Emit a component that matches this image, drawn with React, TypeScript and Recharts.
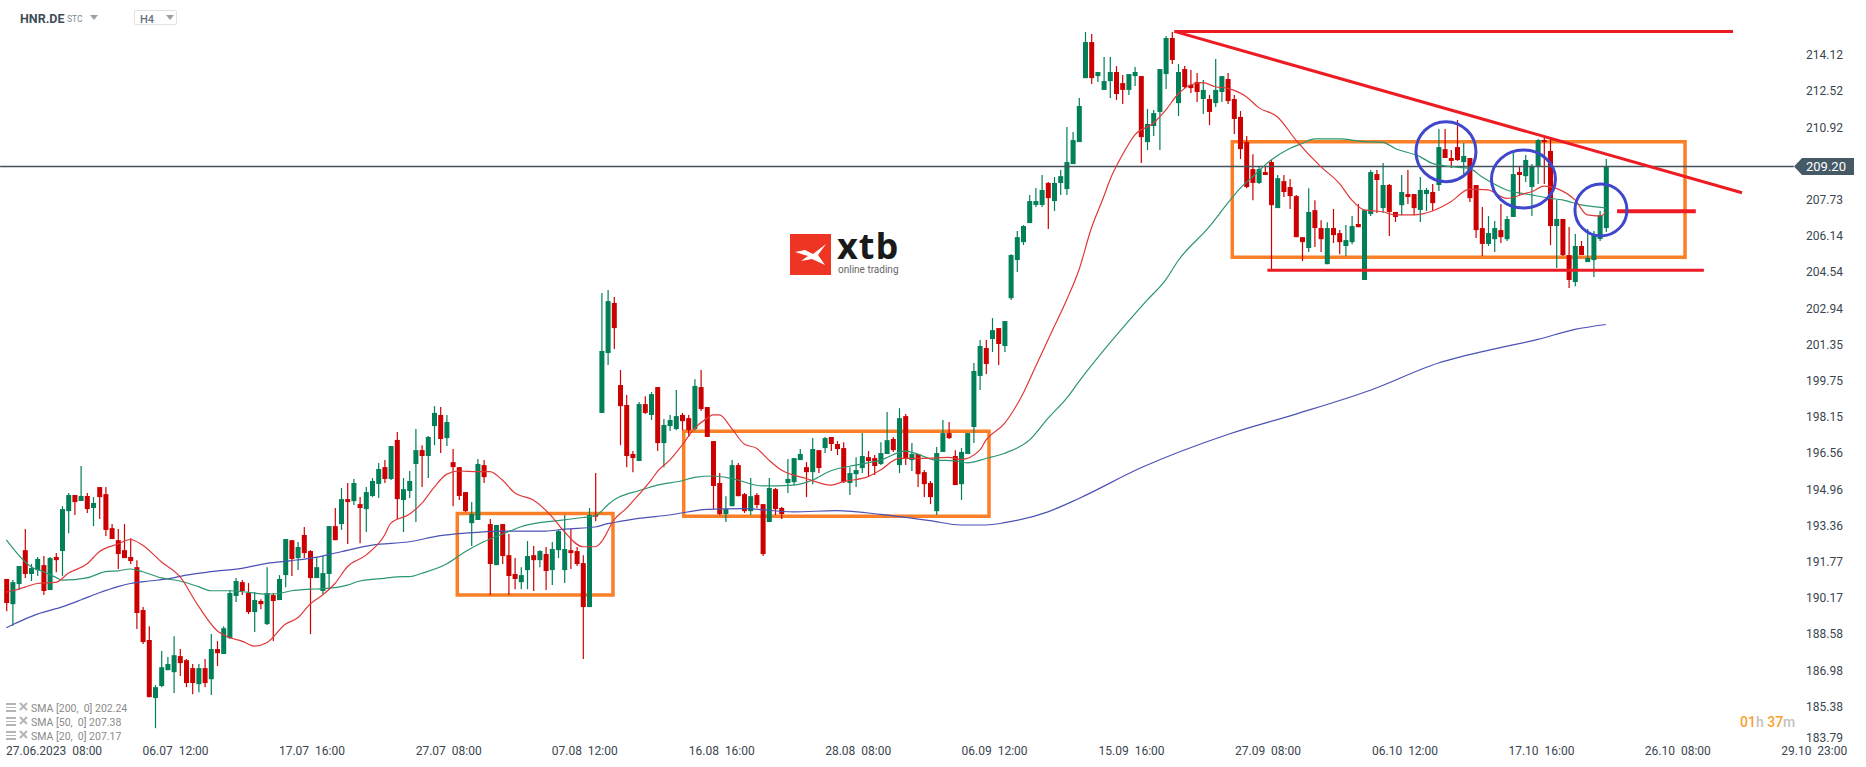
import { Bar, ComposedChart, Line, ReferenceArea, ReferenceDot, ReferenceLine, XAxis, YAxis } from 'recharts'

// open, high, low, close of each H4 candle
const candles: number[][] = [
  [191.02,191.02,189.60,189.96],[189.91,190.97,188.96,190.88],[190.80,191.59,190.53,191.59],[192.29,193.22,191.06,191.24],[191.24,191.68,190.93,191.50],
  [191.41,191.99,191.15,191.90],[191.63,192.03,190.31,190.49],[190.53,191.99,190.53,191.94],[191.99,192.16,191.32,191.85],[192.25,194.23,191.15,194.10],
  [194.01,194.81,193.04,194.72],[194.72,194.72,193.84,194.41],[194.46,196.00,194.46,194.68],[194.68,194.81,193.93,194.10],[194.15,194.63,193.35,194.37],
  [195.07,195.07,193.66,194.63],[194.76,195.07,192.91,193.18],[193.26,193.44,192.78,192.78],[192.73,193.22,191.46,192.12],[192.29,193.44,191.94,191.94],
  [191.99,192.82,191.68,191.81],[191.54,191.85,188.81,189.52],[189.65,189.78,188.15,188.24],[188.33,188.94,185.81,185.81],[185.77,186.34,184.44,186.25],
  [186.30,187.84,186.25,187.13],[187.00,187.58,187.00,187.27],[186.91,188.50,185.99,187.66],[187.62,187.93,186.74,187.31],[187.44,187.49,186.25,186.43],
  [187.09,187.27,185.94,186.43],[186.38,187.27,186.03,187.09],[187.09,187.49,186.25,186.43],[186.60,188.59,185.90,187.93],[187.93,188.28,187.18,187.75],
  [187.71,188.94,187.71,188.85],[188.41,190.53,188.37,190.40],[190.27,191.06,190.00,190.93],[190.88,190.97,190.31,190.49],[190.40,190.84,189.47,189.56],
  [189.56,190.44,188.68,190.09],[190.05,190.13,189.69,189.91],[189.03,191.54,188.99,190.40],[190.31,190.40,188.28,190.05],[190.09,191.19,190.09,191.02],
  [191.19,192.78,190.66,192.78],[192.73,192.73,191.15,191.90],[191.94,192.65,191.41,192.43],[192.96,193.31,191.94,192.16],[192.25,192.29,188.59,191.06],
  [191.06,191.99,191.06,191.54],[190.49,192.03,190.35,191.28],[191.24,193.35,190.53,193.35],[193.35,194.15,192.73,192.73],[193.44,195.03,193.18,194.54],
  [194.54,195.25,192.56,194.41],[194.45,195.43,194.28,195.25],[194.32,194.63,192.60,194.15],[194.10,195.07,193.09,194.85],[194.68,195.47,194.63,195.34],
  [195.21,196.13,194.59,195.87],[195.95,196.26,195.25,195.43],[195.43,196.88,195.38,196.88],[197.15,197.50,193.66,194.54],[194.50,195.47,193.09,194.98],
  [194.90,195.78,194.59,195.34],[196.09,197.63,193.53,196.70],[196.70,196.92,195.07,196.44],[196.44,197.32,195.47,197.28],[197.76,198.64,196.92,198.34],
  [198.25,198.60,196.57,197.19],[197.23,198.25,196.88,197.94],[196.17,196.75,194.23,195.95],[195.95,195.95,194.50,194.68],[194.85,194.85,193.97,194.01],
  [193.48,194.41,192.47,193.88],[193.62,196.31,193.62,196.09],[196.04,196.26,195.25,195.51],[193.44,193.66,190.31,191.68],[191.63,193.40,191.63,193.40],
  [193.44,193.44,191.68,192.03],[192.07,193.00,190.31,191.15],[191.24,191.94,190.57,191.02],[190.88,191.54,190.57,191.19],[191.41,192.69,190.57,192.03],
  [192.07,192.47,190.49,191.85],[191.85,192.29,191.54,192.25],[192.12,192.43,190.53,191.37],[191.41,192.65,190.75,192.34],[192.29,193.18,191.94,193.13],
  [191.41,193.84,190.84,192.34],[192.29,193.22,191.46,192.16],[192.25,192.43,191.59,191.68],[191.72,192.07,187.49,189.78],[189.78,194.15,189.78,193.84],
  [193.84,195.69,193.57,193.77],[198.34,203.63,198.34,201.07],[200.98,203.76,200.45,203.27],[203.19,203.45,201.16,202.08],[199.57,200.23,196.92,198.64],
  [198.69,199.13,195.95,196.44],[196.53,196.66,195.73,196.35],[196.22,198.82,196.22,198.73],[198.73,199.08,198.29,198.34],[198.25,199.26,198.03,199.17],
  [199.48,199.48,196.66,197.01],[197.01,198.07,195.95,197.81],[197.76,198.25,197.54,198.03],[197.63,199.35,197.58,198.20],[198.25,198.34,197.58,197.98],
  [198.11,198.25,197.28,197.58],[197.63,199.83,197.58,199.53],[199.48,200.23,198.42,198.51],[198.60,198.60,197.28,197.28],[197.10,197.10,194.10,195.12],
  [195.25,195.69,193.84,193.88],[193.88,194.67,193.53,194.10],[194.23,196.26,194.23,196.04],[196.04,196.13,194.67,194.67],[194.76,194.81,193.93,194.01],
  [194.01,195.47,193.84,194.67],[194.72,194.81,194.15,194.28],[194.32,194.32,192.03,192.12],[193.53,195.47,193.53,195.03],[194.98,195.03,193.84,194.10],
  [194.15,194.19,193.66,193.88],[195.25,196.31,194.81,195.43],[195.29,196.35,195.16,196.35],[196.26,196.75,196.26,196.53],[195.95,196.17,194.63,195.73],
  [195.73,197.23,195.20,196.75],[196.70,196.70,195.69,195.91],[196.79,197.28,196.57,197.23],[197.28,197.28,196.66,196.97],[196.97,197.10,196.48,196.75],
  [196.79,197.05,195.25,195.29],[195.25,195.95,194.72,195.69],[195.64,196.39,195.07,195.82],[195.91,197.45,195.69,196.44],[196.39,196.66,195.56,196.22],
  [196.35,196.48,195.60,196.00],[196.09,197.05,196.04,196.57],[196.53,198.38,196.53,197.14],[197.19,197.28,196.62,196.70],[196.04,198.55,195.69,198.11],
  [198.20,198.29,196.04,196.31],[196.26,197.01,195.78,196.53],[196.53,196.53,195.07,195.64],[195.73,195.82,194.63,195.20],[195.25,195.34,194.32,194.63],
  [194.01,196.84,193.84,196.57],[196.62,198.03,196.62,197.45],[197.45,197.94,197.19,197.23],[196.44,196.70,195.16,195.16],[195.20,196.79,194.50,196.62],
  [196.53,197.45,196.53,197.45],[197.72,200.54,197.01,200.19],[199.97,201.55,199.35,201.29],[201.20,201.55,200.06,200.50],[201.60,202.52,201.03,201.99],
  [202.08,202.08,200.45,201.38],[201.29,202.39,201.03,202.39],[203.40,205.34,203.32,205.30],[205.08,206.36,204.55,206.09],[205.87,206.62,205.74,206.58],
  [206.71,207.95,206.71,207.68],[207.51,208.26,207.42,207.68],[207.51,208.83,207.42,208.17],[208.48,208.52,206.45,207.81],[207.68,208.74,207.24,208.48],
  [208.48,209.05,207.95,208.78],[208.21,210.95,207.95,209.40],[209.31,210.72,209.31,210.37],[210.28,212.22,210.28,211.87],[213.10,215.13,213.10,214.69],
  [214.69,215.05,212.84,213.10],[213.19,213.37,212.93,213.37],[212.58,214.03,212.58,212.97],[212.97,214.03,212.22,213.37],[213.37,213.63,212.14,212.40],
  [212.88,213.24,211.96,212.58],[212.58,213.28,212.36,213.28],[213.19,213.59,212.75,213.37],[213.19,213.19,209.36,210.50],[210.28,211.74,209.93,211.08],
  [210.99,211.69,210.55,211.56],[211.61,213.50,209.93,213.50],[213.28,214.96,212.62,214.87],[214.87,215.13,213.72,213.90],[212.00,213.72,211.43,213.37],
  [213.50,213.63,212.66,212.71],[212.80,213.46,212.44,212.66],[212.93,213.33,212.05,212.49],[212.18,213.02,211.52,212.58],[212.18,212.36,211.03,211.61],
  [212.00,213.94,211.83,212.58],[212.49,213.19,212.05,213.19],[213.06,213.33,211.96,212.09],[212.18,212.36,210.64,211.30],[211.39,211.65,209.53,209.97],
  [210.28,210.55,208.25,208.30],[209.09,209.75,207.72,208.48],[208.48,209.22,208.43,209.09],[208.96,209.22,208.83,208.83],[209.40,209.49,204.64,207.50],
  [207.37,208.83,207.37,208.69],[208.56,208.83,207.86,208.08],[208.30,208.65,207.33,207.90],[207.90,207.95,206.09,206.09],[206.09,206.09,205.03,205.87],
  [205.61,208.25,205.43,207.20],[207.28,207.72,205.65,206.49],[206.49,206.84,205.43,206.00],[204.90,206.75,204.90,206.49],[206.49,207.33,205.83,206.18],
  [206.27,206.40,205.34,205.87],[205.70,206.62,205.25,205.96],[205.87,207.02,205.78,206.58],[206.67,207.55,206.53,206.53],[204.20,207.28,204.20,207.28],
  [207.11,209.05,207.02,208.96],[208.87,209.05,207.15,208.61],[207.37,209.36,207.15,208.39],[208.39,208.43,206.14,207.20],[207.20,207.20,206.76,206.98],
  [207.50,208.83,207.06,208.08],[207.99,209.05,207.55,207.86],[207.99,207.99,207.06,207.37],[207.29,208.74,206.76,208.17],[207.99,208.26,207.24,208.17],
  [208.08,208.43,207.24,207.59],[208.39,210.86,208.12,210.06],[209.97,210.86,209.58,209.58],[209.58,209.93,209.14,209.45],[210.06,211.25,209.45,209.49],
  [209.40,210.24,208.87,209.67],[209.58,209.58,207.64,207.81],[208.39,208.39,206.05,206.40],[206.49,207.42,205.26,205.79],[205.79,207.02,205.70,206.27],
  [206.00,206.80,205.43,206.49],[206.40,207.55,205.83,206.09],[206.00,207.02,205.92,206.89],[206.98,209.80,206.98,208.87],[208.96,209.18,207.95,208.83],
  [208.78,209.71,208.52,209.49],[208.30,209.31,207.02,209.23],[209.23,210.42,208.43,210.37],[210.37,210.46,208.43,210.28],[209.89,210.42,205.74,206.58],
  [206.58,207.73,204.73,206.89],[206.89,206.89,205.26,205.30],[205.30,206.54,203.85,204.20],[204.11,206.23,203.93,205.70],[205.70,205.92,205.30,205.30],
  [204.99,206.45,204.99,205.17],[205.08,206.36,204.33,206.18],[206.01,207.24,205.92,207.06],[206.49,209.53,206.32,209.20],
]

// moving averages as [candle index, price], sampled where they could be read
const sma20: number[][] = [
  [0,190.44],[1,190.50],[3,190.66],[5,190.82],[8,190.87],[10,191.27],[13,191.68],[15,192.22],[18,192.56],[20,192.76],[22,192.51],[25,191.78],[28,191.12],[31,189.82],[34,188.74],[36,188.44],[38,188.28],[40,188.06],[42,188.21],[45,189.02],[47,189.31],[49,189.91],
  [51,190.31],[53,190.82],[55,191.56],[58,192.07],[61,192.95],[62,193.47],[65,193.87],[67,194.35],[69,195.06],[71,195.63],[73,195.78],[76,195.75],[78,195.75],[80,195.38],[82,194.82],[85,194.50],[88,193.77],[90,193.10],[93,192.44],[95,192.44],
  [96,192.66],[98,193.62],[100,194.13],[101,194.43],[104,195.38],[105,195.75],[107,196.26],[109,196.92],[111,197.66],[113,198.10],[114,198.25],[115,198.25],[117,197.66],[119,196.97],[121,196.78],[123,196.26],[125,195.82],[129,195.45],[133,195.16],[135,195.31],[139,195.53],[141,195.82],[144,196.34],[148,196.34],[152,196.38],[154,196.29],[157,196.70],[158,197.14],[161,197.88],[164,199.20],[166,200.38],[169,202.14],
  [171,203.31],[173,204.64],[175,206.48],[177,207.87],[178,208.61],[180,209.71],[182,210.59],[185,211.11],[187,211.69],[189,212.40],[191,212.80],[193,212.90],[195,212.72],[197,212.65],[200,212.28],[202,211.80],[205,211.40],[208,210.37],[212,209.20],[215,208.46],[217,207.73],[219,207.29],
  [222,207.21],[224,207.07],[227,207.07],[230,207.24],[233,207.65],[236,208.21],[239,208.17],[242,207.80],[245,208.02],[246,208.09],[248,208.34],[250,208.24],[253,207.73],[255,207.07],[257,207.02],[258,207.17],
]
const sma50: number[][] = [
  [0,192.74],[1,192.40],[2,192.07],[4,191.56],[6,191.34],[8,191.09],[9,190.97],[13,191.07],[16,191.34],[18,191.38],[20,191.46],[22,191.34],[25,191.07],[28,190.93],[31,190.68],[33,190.50],[36,190.50],[39,190.43],[42,190.35],[44,190.38],[46,190.50],[49,190.57],
  [51,190.59],[55,190.75],[57,190.93],[61,191.05],[64,191.12],[65,191.12],[67,191.27],[71,191.68],[74,192.22],[77,192.66],[81,193.10],[83,193.32],[86,193.50],[89,193.59],[93,193.73],[95,193.81],[97,194.28],
  [98,194.50],[99,194.65],[102,194.91],[105,195.16],[109,195.35],[111,195.50],[114,195.56],[117,195.45],[122,195.12],[127,195.16],[130,195.38],[133,195.79],[137,196.04],[141,196.26],[145,196.66],[150,196.26],[153,196.23],[155,196.14],[158,196.33],[161,196.56],[165,197.14],[168,198.10],[171,198.98],[173,199.72],
  [184,203.31],[187,204.21],[189,205.05],[194,206.54],[197,207.59],[199,208.24],[201,208.75],[204,209.49],[207,210.00],[209,210.22],[211,210.42],[215,210.42],[219,210.30],[222,210.27],[224,210.00],[228,209.64],[230,209.34],[233,209.20],[236,209.12],[238,208.75],[242,208.17],[246,207.95],[249,207.80],[251,207.73],[254,207.51],[258,207.38],
]
const sma200: number[][] = [
  [0,188.87],[1,189.00],[2,189.13],[5,189.47],[9,189.79],[12,190.09],[15,190.41],[18,190.68],[20,190.82],[23,190.93],[26,191.02],[29,191.19],[33,191.34],[38,191.49],[42,191.71],[46,191.83],[49,191.93],
  [54,192.22],[59,192.51],[65,192.66],[70,192.93],[74,193.04],[80,193.13],[87,193.13],[90,193.22],[95,193.31],[97,193.46],
  [98,193.51],[102,193.69],[107,193.84],[113,194.09],[119,194.12],[127,193.98],[134,194.03],[141,193.87],[149,193.59],[154,193.40],[158,193.40],[161,193.50],[168,193.98],[173,194.57],
  [183,195.92],[197,197.39],[208,198.29],[220,199.34],[231,200.54],[241,201.22],[247,201.58],[253,202.02],[258,202.24],
]

const priceTicks = [214.12,212.52,210.92,209.2,207.73,206.14,204.54,202.94,201.35,199.75,198.15,196.56,194.96,193.36,191.77,190.17,188.58,186.98,185.38,183.79]
const lastPrice = 209.2

// labels sit 22 candles apart, the last ones run past the data
const timeTicks = [7.86,27.3,49.3,71.35,93.3,115.4,137.4,159.4,181.5,203.5,225.6,247.6,269.6,291.6]
const timeLabels = ['27.06.2023  08:00','06.07  12:00','17.07  16:00','27.07  08:00','07.08  12:00','16.08  16:00','28.08  08:00','06.09  12:00','15.09  16:00','27.09  08:00','06.10  12:00','17.10  16:00','26.10  08:00','29.10  23:00']

const legendRows = ['SMA [200,  0] 202.24','SMA [50,  0] 207.38','SMA [20,  0] 207.17']

const rows = candles.map(([open, high, low, close], i) => ({ i, open, high, low, close } as any))
sma20.forEach(([i, v]) => { rows[i].sma20 = v })
sma50.forEach(([i, v]) => { rows[i].sma50 = v })
sma200.forEach(([i, v]) => { rows[i].sma200 = v })

const GREEN = '#007f58'
const RED = '#cc0000'
const ORANGE = '#fb7f26'
const LINE_RED = '#ed1c24'
const CIRCLE = '#3f48cc'
const FONT = 'Roboto, sans-serif'

function Candle({ x, y, width, height, payload }: any) {
  const { open, close, high, low } = payload
  const perUnit = height / (high - low)
  const top = y + (high - Math.max(open, close)) * perUnit
  const bodyH = Math.max(Math.abs(open - close) * perUnit, 1)
  const color = close >= open ? GREEN : RED
  const mid = x + width / 2
  return (
    <g>
      <line x1={mid} x2={mid} y1={y} y2={y + height} stroke={color} strokeWidth={1.2} />
      <rect x={x} y={top} width={width} height={bodyH} fill={color} />
    </g>
  )
}

function PriceTick({ y, payload }: any) {
  if (payload.value === lastPrice) {
    return (
      <g>
        <path d={`M1794 ${y} L1802 ${y - 8.5} H1854 V${y + 8.5} H1802 Z`} fill="#465a66" />
        <text x={1806} y={y + 4.5} fontSize={13} fontFamily={FONT} fill="#fff">209.20</text>
      </g>
    )
  }
  return (
    <text x={1806} y={Math.min(y, 738) + 4} fontSize={12} fontFamily={FONT} fill="#3a4650">
      {payload.value.toFixed(2)}
    </text>
  )
}

function TimeTick({ x, index }: any) {
  const first = index === 0
  return (
    <text x={first ? 6 : x} y={755} textAnchor={first ? 'start' : 'middle'} fontSize={12} fontFamily={FONT} fill="#3a4650" style={{ whiteSpace: 'pre' }}>
      {timeLabels[index]}
    </text>
  )
}

function WideCircle({ cx, cy }: any) {
  return <ellipse cx={cx} cy={cy} rx={32} ry={29} fill="none" stroke={CIRCLE} strokeWidth={3} />
}

function Header() {
  return (
    <div style={{ position: 'absolute', left: 0, top: 0, fontFamily: FONT }}>
      <div style={{ position: 'absolute', left: 20, top: 11, fontSize: 12.5, fontWeight: 700, color: '#3f4e59' }}>HNR.DE</div>
      <div style={{ position: 'absolute', left: 67, top: 14, fontSize: 8.5, color: '#808a92' }}>STC</div>
      <svg style={{ position: 'absolute', left: 90, top: 15 }} width={8} height={5}><path d="M0 0H8L4 5Z" fill="#9aa1a6" /></svg>
      <div style={{ position: 'absolute', left: 134, top: 10, width: 43, height: 15, border: '1px solid #e2e2e2', borderRadius: 2, boxSizing: 'border-box' }} />
      <div style={{ position: 'absolute', left: 140, top: 13, fontSize: 11, fontWeight: 500, color: '#66727c' }}>H4</div>
      <svg style={{ position: 'absolute', left: 166, top: 15 }} width={8} height={5}><path d="M0 0H8L4 5Z" fill="#9aa1a6" /></svg>
    </div>
  )
}

function Logo() {
  return (
    <div style={{ position: 'absolute', left: 790, top: 234, width: 110, height: 42 }}>
      <svg width={41} height={41} style={{ position: 'absolute', left: 0, top: 0 }}>
        <rect width={41} height={41} fill="#ee3524" />
        <path d="M5 18 L15 16 L23 20 L36 10 L28 21 L35 31 L22 25 L11 27 L18 22 Z" fill="#fff" />
      </svg>
      <div style={{ position: 'absolute', left: 47, top: -1, fontFamily: 'Open Sans, sans-serif', fontWeight: 700, fontSize: 36, lineHeight: '26px', height: 26, letterSpacing: 1, color: '#1a1a1a' }}>xtb</div>
      <div style={{ position: 'absolute', left: 48, top: 30, fontFamily: FONT, fontSize: 10, lineHeight: '12px', color: '#666', whiteSpace: 'nowrap' }}>online trading</div>
    </div>
  )
}

function SmaLegend() {
  return (
    <div style={{ position: 'absolute', left: 0, top: 0, fontFamily: FONT }}>
      {legendRows.map((txt, k) => (
        <div key={txt} style={{ position: 'absolute', left: 6, top: 702 + k * 14, height: 13, whiteSpace: 'pre', fontSize: 10.5, lineHeight: '13px', color: '#8a8a8a' }}>
          <svg width={22} height={11} style={{ position: 'absolute', left: 0, top: 0 }}>
            <path d="M0 1H10V3H0ZM0 5H10V6H0ZM0 8H10V10H0Z" fill="#b5b5b5" />
            <path d="M14 1L21 8M21 1L14 8" stroke="#b5b5b5" strokeWidth={2} />
          </svg>
          <span style={{ position: 'absolute', left: 25, top: 0 }}>{txt}</span>
        </div>
      ))}
    </div>
  )
}

function Countdown() {
  return (
    <div style={{ position: 'absolute', left: 1740, top: 714, fontFamily: FONT, fontSize: 14, fontWeight: 500, lineHeight: '17px', whiteSpace: 'pre', color: '#f9a02f' }}>
      01<span style={{ color: '#c2c2c2' }}>h</span> 37<span style={{ color: '#c2c2c2' }}>m</span>
    </div>
  )
}

export default function App() {
  return (
    <div style={{ position: 'absolute', left: 0, top: 0, width: 1866, height: 767, background: '#fff', overflow: 'hidden' }}>
      <ComposedChart width={1866} height={767} data={rows} margin={{ top: 0, right: 0, bottom: 0, left: 0 }}>
        <XAxis dataKey="i" type="number" domain={[-1.016, 299.95]} ticks={timeTicks} interval={0} height={22} axisLine={false} tickLine={false} tick={<TimeTick />} allowDataOverflow />
        <YAxis orientation="right" mirror width={1} type="number" domain={[183.7, 216.545]} ticks={priceTicks} interval={0} axisLine={false} tickLine={false} tick={<PriceTick />} allowDataOverflow />
        <ReferenceLine segment={[{ x: -1, y: lastPrice }, { x: 288.3, y: lastPrice }]} stroke="#44525e" strokeWidth={1.5} />
        <Bar dataKey={(r: any) => [r.low, r.high]} barSize={5} shape={<Candle />} isAnimationActive={false} />
        <Line dataKey="sma200" stroke="#4b52b5" strokeWidth={1.2} dot={false} activeDot={false} type="monotone" connectNulls isAnimationActive={false} />
        <Line dataKey="sma50" stroke="#2c9670" strokeWidth={1.2} dot={false} activeDot={false} type="monotone" connectNulls isAnimationActive={false} />
        <Line dataKey="sma20" stroke="#e0393a" strokeWidth={1.2} dot={false} activeDot={false} type="monotone" connectNulls isAnimationActive={false} />
        <ReferenceArea x1={72.74} x2={97.85} y1={190.31} y2={193.91} fill="none" stroke={ORANGE} strokeWidth={3.5} />
        <ReferenceArea x1={109.26} x2={158.5} y1={193.78} y2={197.53} fill="none" stroke={ORANGE} strokeWidth={3.5} />
        <ReferenceArea x1={197.74} x2={270.76} y1={205.2} y2={210.3} fill="none" stroke={ORANGE} strokeWidth={3.5} />
        <ReferenceLine segment={[{ x: 188.4, y: 215.16 }, { x: 278.5, y: 215.16 }]} stroke={LINE_RED} strokeWidth={3} />
        <ReferenceLine segment={[{ x: 188.4, y: 215.16 }, { x: 279.95, y: 208.05 }]} stroke={LINE_RED} strokeWidth={3} />
        <ReferenceLine segment={[{ x: 203.4, y: 204.63 }, { x: 273.8, y: 204.63 }]} stroke={LINE_RED} strokeWidth={3} />
        <ReferenceLine segment={[{ x: 259.8, y: 207.23 }, { x: 272.5, y: 207.23 }]} stroke={LINE_RED} strokeWidth={4} />
        <ReferenceDot x={232.2} y={209.86} r={30} fill="none" stroke={CIRCLE} strokeWidth={3} />
        <ReferenceDot x={244.7} y={208.65} shape={<WideCircle />} />
        <ReferenceDot x={257.2} y={207.29} r={26} fill="none" stroke={CIRCLE} strokeWidth={3} />
      </ComposedChart>
      <Header />
      <Logo />
      <SmaLegend />
      <Countdown />
    </div>
  )
}
